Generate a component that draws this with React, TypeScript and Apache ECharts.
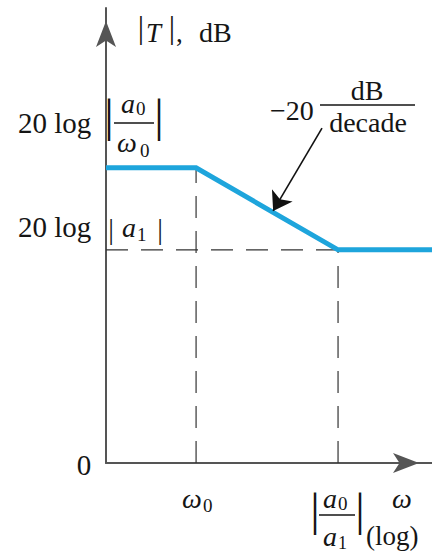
import React, { useEffect, useRef } from 'react';
import * as echarts from 'echarts';

// ω on a log axis: axis start, ω0, |a0/a1|, axis end  (ω0 = 1, |a0/a1| = 10 → one decade)
const omegaPoints = [0.232, 1, 10, 45.9];
// asymptotic |T| in dB at those frequencies (-20 dB/decade between the breaks)
const magnitudeDb = [72, 72, 52, 52];
const xAxisRange = [0.232, 45.9];
const yAxisRange = [0, 111];
const breakOmega = [1, 10]; // ω0, |a0/a1|
const levelDb = [72, 52]; // 20 log|a0/ω0|, 20 log|a1|
// slope annotation arrow: from label to a point on the -20 dB/decade segment
const arrowFrom = [7.71, 81.7];
const arrowTo = [3.49, 61.5];

const FONT = 'Liberation Serif';
const INK = '#151515';

function txt(text: string, x: number, base: number, size: number, italic = false, align = 'left') {
  return {
    type: 'text',
    x,
    y: base - 0.34 * size,
    z: 10,
    style: {
      text,
      fill: INK,
      fontSize: size,
      fontFamily: FONT,
      fontStyle: italic ? 'italic' : 'normal',
      align,
      verticalAlign: 'middle',
    },
  };
}

function bar(x: number, top: number, bottom: number) {
  const size = (bottom - top) / 0.95;
  return txt('|', x, bottom - 0.2 * size, size, false, 'center');
}

function hline(x1: number, x2: number, y: number) {
  return {
    type: 'line',
    z: 10,
    shape: { x1, y1: y, x2, y2: y },
    style: { stroke: INK, lineWidth: 1.4 },
  };
}

export default function App() {
  const ref = useRef<HTMLDivElement>(null);
  useEffect(() => {
    if (!ref.current) return;
    const chart = echarts.init(ref.current, undefined, { renderer: 'svg' });
    const axisLine = {
      show: true,
      lineStyle: { color: '#555', width: 2 },
      symbol: ['none', 'arrow'],
      symbolSize: [15, 26],
      symbolOffset: [0, -13],
    };
    const dash = { color: '#333', width: 1.2, type: [22, 13] as any };
    const [w0, wa] = breakOmega;
    const [hi, lo] = levelDb;
    chart.setOption({
      animation: false,
      grid: { left: 106, right: 0, top: 8, bottom: 90 },
      xAxis: {
        type: 'log',
        logBase: 10,
        min: xAxisRange[0],
        max: xAxisRange[1],
        axisLine,
        axisTick: { show: false },
        axisLabel: { show: false },
        splitLine: { show: false },
      },
      yAxis: {
        type: 'value',
        min: yAxisRange[0],
        max: yAxisRange[1],
        axisLine,
        axisTick: { show: false },
        axisLabel: { show: false },
        splitLine: { show: false },
      },
      series: [
        {
          type: 'line',
          data: [[xAxisRange[0], lo], [wa, lo]],
          symbol: 'none',
          lineStyle: dash,
          z: 2,
        },
        {
          type: 'line',
          data: [[w0, yAxisRange[0]], [w0, hi]],
          symbol: 'none',
          lineStyle: dash,
          z: 2,
        },
        {
          type: 'line',
          data: [[wa, yAxisRange[0]], [wa, lo]],
          symbol: 'none',
          lineStyle: dash,
          z: 2,
        },
        {
          type: 'line',
          data: omegaPoints.map((w, i) => [w, magnitudeDb[i]]),
          symbol: 'none',
          lineStyle: { color: '#1ea5dc', width: 5, join: 'miter' },
          z: 3,
        },
        {
          type: 'lines',
          coordinateSystem: 'cartesian2d',
          data: [{ coords: [arrowFrom, arrowTo] }],
          symbol: ['none', 'arrow'],
          symbolSize: [9, 18],
          lineStyle: { color: '#111', width: 1.6, opacity: 1, curveness: 0 },
          z: 4,
        },
      ],
      graphic: [
        // |T|, dB
        bar(141, 15, 45),
        txt('T', 146, 42, 27, true),
        bar(172, 15, 45),
        txt(',', 176, 42, 27),
        txt('dB', 199, 42, 28),
        // 20 log|a0/ω0|
        txt('20 log', 18, 133, 29),
        bar(109, 96, 141),
        txt('a', 121, 113, 28, true),
        txt('0', 136, 115, 19),
        hline(114, 154, 123),
        txt('ω', 117, 152, 28, true),
        txt('0', 140, 157, 19),
        bar(159, 96, 141),
        // 20 log|a1|
        txt('20 log', 18, 237, 29),
        bar(111, 218, 245),
        txt('a', 122, 237, 28, true),
        txt('1', 137, 241, 19),
        bar(160, 218, 245),
        // 0
        txt('0', 84, 475, 29, false, 'center'),
        // ω0
        txt('ω', 182, 508, 28, true),
        txt('0', 203, 512, 19),
        // |a0/a1|
        bar(315, 490, 535),
        txt('a', 323, 508, 28, true),
        txt('0', 338, 510, 19),
        hline(319, 355, 515),
        txt('a', 323, 546, 28, true),
        txt('1', 338, 549, 18),
        bar(360, 490, 535),
        // ω (log)
        txt('ω', 392, 508, 28, true),
        txt('(log)', 366, 545, 27),
        // −20 dB/decade
        txt('−20', 270, 120, 28),
        txt('dB', 367, 100, 28, false, 'center'),
        hline(320, 415, 105),
        txt('decade', 368, 132, 28, false, 'center'),
      ],
    });
    return () => chart.dispose();
  }, []);
  return (
    <div
      ref={ref}
      style={{ position: 'fixed', left: 0, top: 0, width: 432, height: 553, background: '#fff' }}
    />
  );
}
